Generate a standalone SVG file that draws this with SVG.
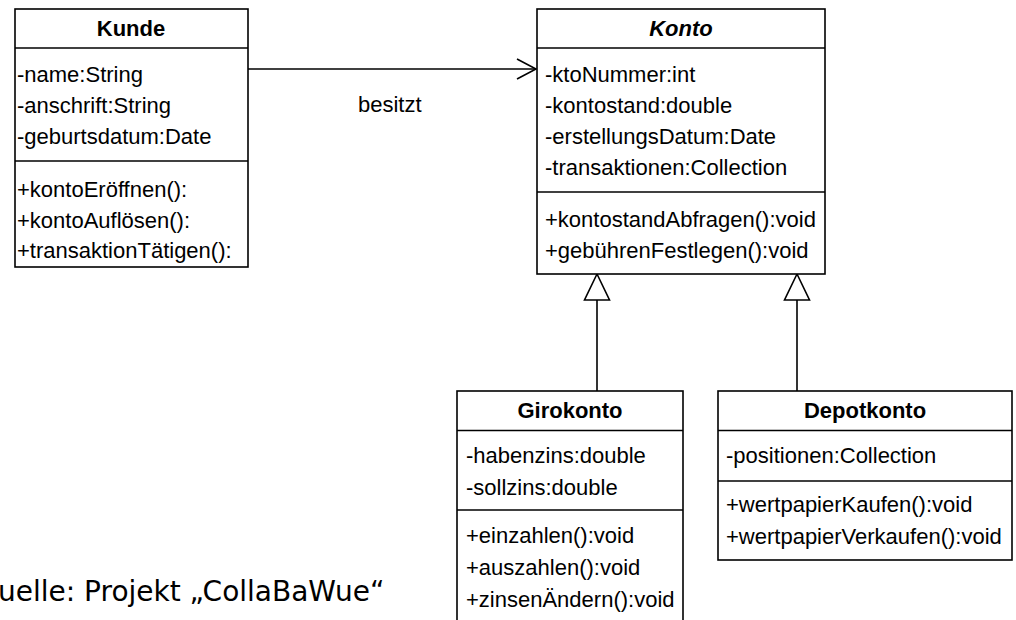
<svg xmlns="http://www.w3.org/2000/svg" width="1016" height="620" viewBox="0 0 1016 620">
<style>
.box{fill:#fff;stroke:#000;stroke-width:1.6}
.sep{stroke:#000;stroke-width:1.6}
.t{font-family:"Liberation Sans",Arial,sans-serif;font-size:22px;fill:#000}
.title{font-family:"Liberation Sans",Arial,sans-serif;font-size:22px;font-weight:bold;fill:#000;text-anchor:middle}
.edge{fill:none;stroke:#000;stroke-width:1.6}
.cap{font-family:"DejaVu Sans",Verdana,sans-serif;font-size:28px;fill:#000}
</style>
<rect width="1016" height="620" fill="#fff"/>
<g id="connectors">
  <g id="besitzt">
    <line class="edge" x1="248" y1="69" x2="536" y2="69"/>
    <polyline class="edge" points="517,59 536,69 517,79"/>
    <text class="t" x="358" y="112">besitzt</text>
  </g>
  <g id="giro-konto">
    <line class="edge" x1="597" y1="300" x2="597" y2="391"/>
    <polygon class="edge" points="597,274 584.5,300 609.5,300"/>
  </g>
  <g id="depot-konto">
    <line class="edge" x1="797" y1="300" x2="797" y2="391"/>
    <polygon class="edge" points="797,274 784.5,300 809.5,300"/>
  </g>
</g>
<g id="Kunde">
  <rect class="box" x="15" y="9" width="233" height="258"/>
  <line class="sep" x1="15" y1="48" x2="248" y2="48"/>
  <line class="sep" x1="15" y1="161" x2="248" y2="161"/>
  <text class="title" x="131" y="36">Kunde</text>
  <text class="t" x="17" y="82">-name:String</text>
  <text class="t" x="17" y="113">-anschrift:String</text>
  <text class="t" x="17" y="144">-geburtsdatum:Date</text>
  <text class="t" x="17" y="197">+kontoEröffnen():</text>
  <text class="t" x="17" y="227.5">+kontoAuflösen():</text>
  <text class="t" x="17" y="258">+transaktionTätigen():</text>
</g>
<g id="Konto">
  <rect class="box" x="537" y="9" width="288" height="265"/>
  <line class="sep" x1="537" y1="48" x2="825" y2="48"/>
  <line class="sep" x1="537" y1="192" x2="825" y2="192"/>
  <text class="title" x="681" y="36" font-style="italic">Konto</text>
  <text class="t" x="545" y="82">-ktoNummer:int</text>
  <text class="t" x="545" y="113">-kontostand:double</text>
  <text class="t" x="545" y="144">-erstellungsDatum:Date</text>
  <text class="t" x="545" y="175">-transaktionen:Collection</text>
  <text class="t" x="545" y="227">+kontostandAbfragen():void</text>
  <text class="t" x="545" y="258">+gebührenFestlegen():void</text>
</g>
<g id="Girokonto">
  <rect class="box" x="457" y="391" width="226" height="240"/>
  <line class="sep" x1="457" y1="430.5" x2="683" y2="430.5"/>
  <line class="sep" x1="457" y1="510" x2="683" y2="510"/>
  <text class="title" x="570" y="418">Girokonto</text>
  <text class="t" x="466" y="463">-habenzins:double</text>
  <text class="t" x="466" y="495">-sollzins:double</text>
  <text class="t" x="466" y="543">+einzahlen():void</text>
  <text class="t" x="466" y="575">+auszahlen():void</text>
  <text class="t" x="466" y="607">+zinsenÄndern():void</text>
</g>
<g id="Depotkonto">
  <rect class="box" x="718" y="391" width="294" height="169"/>
  <line class="sep" x1="718" y1="430.5" x2="1012" y2="430.5"/>
  <line class="sep" x1="718" y1="481" x2="1012" y2="481"/>
  <text class="title" x="865" y="418">Depotkonto</text>
  <text class="t" x="726" y="463">-positionen:Collection</text>
  <text class="t" x="726" y="512">+wertpapierKaufen():void</text>
  <text class="t" x="726" y="544">+wertpapierVerkaufen():void</text>
</g>
<text id="caption" class="cap" x="-2" y="601">uelle: Projekt „CollaBaWue“</text>
</svg>
